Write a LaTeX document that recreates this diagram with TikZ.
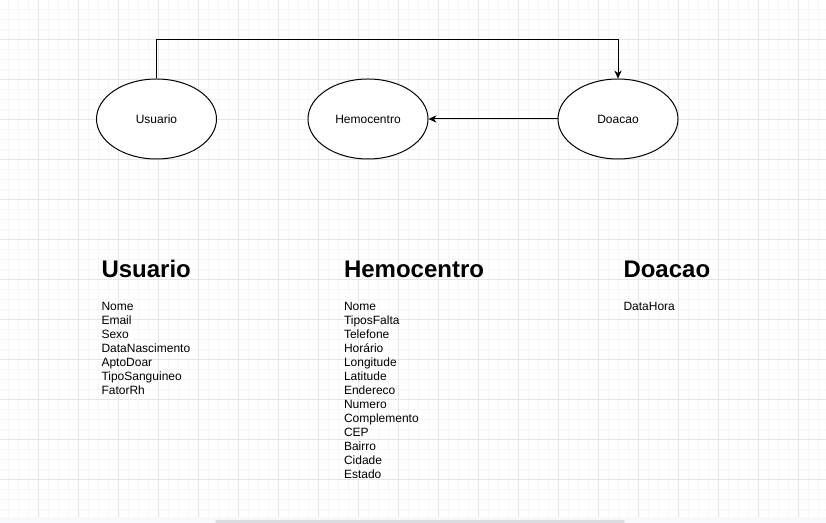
\documentclass[tikz,border=0pt]{standalone}
\usepackage{fontspec}
\setmainfont{Liberation Sans}
\usepackage{xcolor}
\usepackage{tikz}
\usetikzlibrary{arrows.meta, positioning, shapes.geometric}

\definecolor{gridmajor}{HTML}{E6E6E6}
\definecolor{gridminor}{HTML}{F6F6F6}
\definecolor{barbg}{HTML}{F8F9FA}
\definecolor{barthumb}{HTML}{DADCE0}

\begin{document}
\begin{tikzpicture}[
    x=0.75pt, y=-0.75pt, ->, >={Stealth[length=6pt, width=5.5pt]},
    entity/.style={ellipse, draw, fill=white, minimum width=90pt, minimum height=60pt, inner sep=0pt, font=\fontsize{9}{10.8}\selectfont},
    title/.style={anchor=base west, inner sep=0pt, font=\bfseries\fontsize{18}{21.6}\selectfont},
    field/.style={anchor=base west, inner sep=0pt, font=\fontsize{9}{10.8}\selectfont},
    line width=0.75pt, draw=black
]
\useasboundingbox (0,0) rectangle (826,523);

% Grid
\foreach \i in {0,...,82} \draw[-, gridminor, line width=0.5pt] (-1.3+10*\i,0) -- (-1.3+10*\i,517.5);
\foreach \j in {0,...,51} \draw[-, gridminor, line width=0.5pt] (0,-0.7+10*\j) -- (826,-0.7+10*\j);
\foreach \i in {0,...,19} \draw[-, gridmajor, line width=0.6pt] (38.7+40*\i,0) -- (38.7+40*\i,517.5);
\foreach \j in {0,...,11} \draw[-, gridmajor, line width=0.6pt] (0,39.3+40*\j) -- (826,39.3+40*\j);
\fill[barbg] (0,517.5) rectangle (826,523);
\fill[barthumb, rounded corners=1.5pt] (215,520) rectangle (625,523);

% Nodes
\node[entity] (usuario) at (156.5,119) {Usuario};
\node[entity] (hemocentro) at (368,119) {Hemocentro};
\node[entity] (doacao) at (618,119) {Doacao};
\coordinate (top) at (0,39.5);

% Edges
\draw (usuario.north) -- (usuario.north |- top) -| (doacao.north);
\draw (doacao.west) -- (hemocentro.east);

% Attributes
\node[title] (tusuario) at (101,278) {Usuario};
\node[title] (themocentro) at (343.5,278) {Hemocentro};
\node[title] (tdoacao) at (623,278) {Doacao};

\foreach \f [count=\i from 0] in {Nome, Email, Sexo, DataNascimento, AptoDoar, TipoSanguineo, FatorRh}
    \node[field] (u\i) at (101,311+14*\i) {\f};
\foreach \f [count=\i from 0] in {Nome, TiposFalta, Telefone, Horário, Longitude, Latitude, Endereco, Numero, Complemento, CEP, Bairro, Cidade, Estado}
    \node[field] (h\i) at (343.5,311+14*\i) {\f};
\node[field] (d0) at (623,311) {DataHora};

\end{tikzpicture}
\end{document}
